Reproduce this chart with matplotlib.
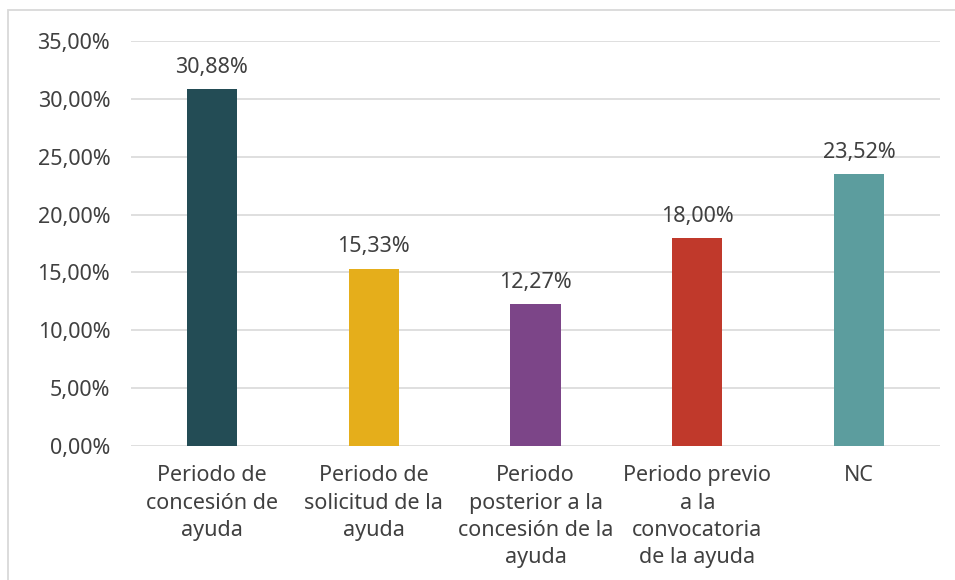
import matplotlib.pyplot as plt
import matplotlib
from matplotlib.patches import Rectangle

matplotlib.rcParams['font.family'] = ['Noto Sans', 'DejaVu Sans']

categorias = ['Periodo de\nconcesión de\nayuda',
              'Periodo de\nsolicitud de la\nayuda',
              'Periodo\nposterior a la\nconcesión de la\nayuda',
              'Periodo previo\na la\nconvocatoria\nde la ayuda',
              'NC']
valores = [30.88, 15.33, 12.27, 18.00, 23.52]
colores = ['#234C55', '#E5AE1B', '#7C4588', '#C0392B', '#5C9D9E']
ticks_y = [0, 5, 10, 15, 20, 25, 30, 35]

texto = '#404040'
fs = 15.5

fig = plt.figure(figsize=(9.55, 5.8), dpi=100)
ax = fig.add_axes([131/955, 1 - 446/580, (940-131)/955, (446-41)/580])

x = range(len(categorias))
barras = ax.bar(x, valores, width=0.31, color=colores, zorder=3)

for b, v in zip(barras, valores):
    ax.annotate(f'{v:.2f}%'.replace('.', ','),
                (b.get_x() + b.get_width()/2, v),
                xytext=(0, 8), textcoords='offset points',
                ha='center', va='bottom', fontsize=fs, color=texto)

ax.set_xlim(-0.5, len(categorias) - 0.5)
ax.set_ylim(0, 35)
ax.set_yticks(ticks_y)
ax.set_yticklabels([f'{t:.2f}%'.replace('.', ',') for t in ticks_y],
                   fontsize=fs, color=texto)
ax.set_xticks(list(x))
ax.set_xticklabels(categorias, fontsize=fs, color=texto, linespacing=1.38)
ax.tick_params(axis='both', length=0)
ax.tick_params(axis='y', pad=15)
ax.tick_params(axis='x', pad=14)

ax.grid(axis='y', color='#D9D9D9', linewidth=1.2, zorder=0)
for s in ax.spines.values():
    s.set_visible(False)

# marco del gráfico (recortado por los bordes derecho e inferior)
fig.patches.append(Rectangle((8/955, -0.1), 1.2, 1 - 10/580 + 0.1,
                             transform=fig.transFigure, fill=False,
                             edgecolor='#D9D9D9', linewidth=1.3))

plt.savefig('out.png', dpi=100)
